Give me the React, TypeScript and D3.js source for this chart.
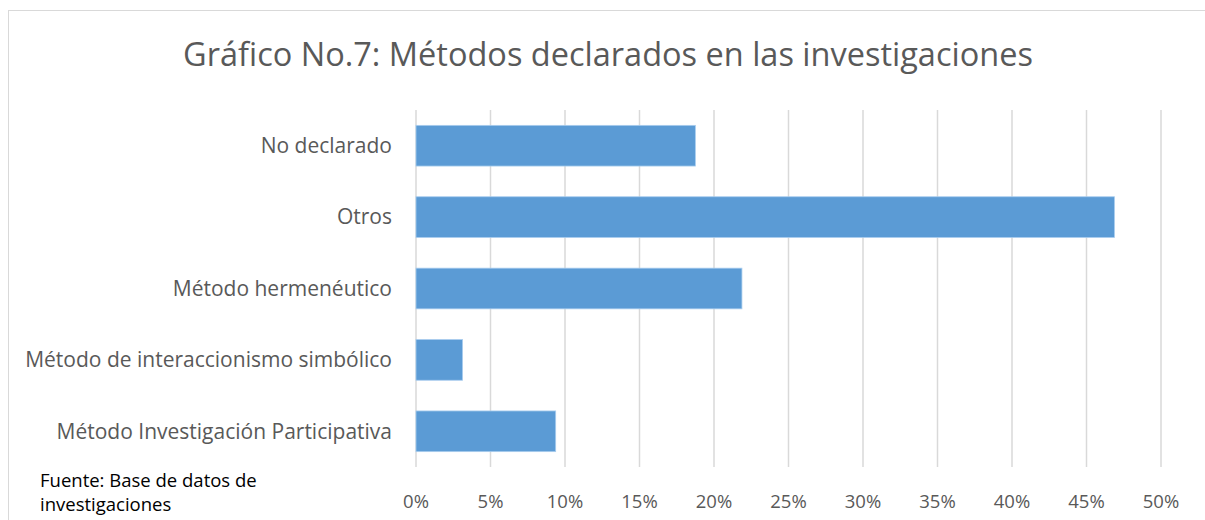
import React from 'react';
import { scaleBand, scaleLinear } from 'd3';

const categories = [
  'No declarado ',
  'Otros',
  'Método hermenéutico',
  'Método de interaccionismo simbólico',
  'Método Investigación Participativa',
];
const values = [0.1875, 0.46875, 0.21875, 0.03125, 0.09375];
const ticks = [0, 0.05, 0.1, 0.15, 0.2, 0.25, 0.3, 0.35, 0.4, 0.45, 0.5];
const title = 'Gráfico No.7: Métodos declarados en las investigaciones';
const source = ['Fuente: Base de datos de', 'investigaciones'];

const font = "'Open Sans', 'Noto Sans', sans-serif";
const textColor = '#595959';

const App = () => {
  const width = 1205;
  const height = 520;
  const margin = { top: 110, right: 44, bottom: 53, left: 416 };

  const xScale = scaleLinear()
    .domain([0, 0.5])
    .range([margin.left, width - margin.right]);
  const yScale = scaleBand()
    .domain(categories)
    .range([margin.top, height - margin.bottom])
    .paddingInner(0.43)
    .paddingOuter(0.215);

  return (
    <svg
      width={width}
      height={height}
      style={{ position: 'absolute', left: 0, top: 0, background: '#fff' }}
    >
      <rect x={8.5} y={10.5} width={width} height={height} fill="#fff" stroke="#d9d9d9" />
      <text
        x={608}
        y={66}
        textAnchor="middle"
        style={{ fontFamily: font, fontSize: '32.5px', fill: textColor }}
      >
        {title}
      </text>
      {ticks.map((t) => (
        <g key={t}>
          <line
            x1={xScale(t)}
            x2={xScale(t)}
            y1={margin.top}
            y2={height - margin.bottom}
            stroke="#d9d9d9"
            strokeWidth={1.5}
          />
          <text
            x={xScale(t)}
            y={508}
            textAnchor="middle"
            style={{ fontFamily: font, fontSize: '18.5px', fill: textColor }}
          >
            {Math.round(t * 100) + '%'}
          </text>
        </g>
      ))}
      {categories.map((c, i) => {
        const y = yScale(c) as number;
        return (
          <g key={c}>
            <rect
              x={xScale(0)}
              y={y}
              width={xScale(values[i]) - xScale(0)}
              height={yScale.bandwidth()}
              fill="#5b9bd5"
              stroke="#a9cdee"
              strokeWidth={0.8}
            />
            <text
              x={392}
              y={y + yScale.bandwidth() / 2}
              dy="0.35em"
              textAnchor="end"
              style={{ fontFamily: font, fontSize: '21px', fill: textColor }}
            >
              {c}
            </text>
          </g>
        );
      })}
      {source.map((s, i) => (
        <text
          key={s}
          x={40}
          y={487 + i * 24}
          style={{ fontFamily: font, fontSize: '18.5px', fill: '#000' }}
        >
          {s}
        </text>
      ))}
    </svg>
  );
};

export default App;
